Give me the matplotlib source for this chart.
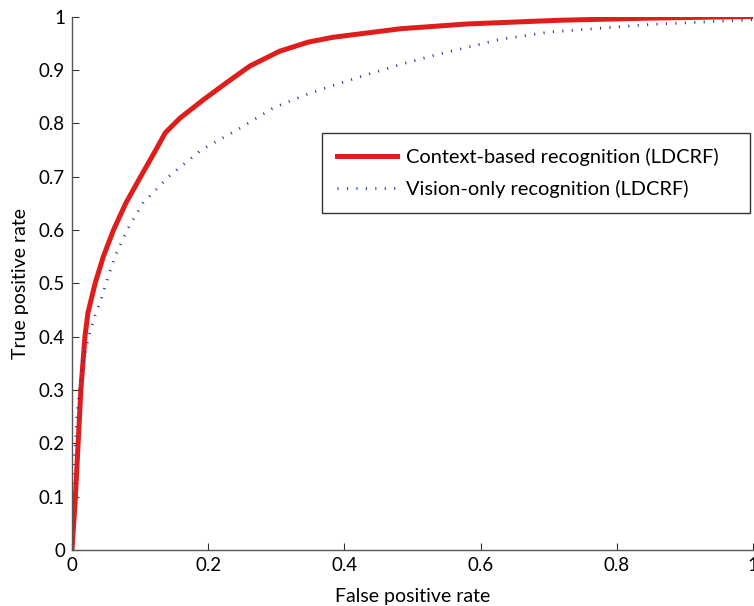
# ROC curves: context-based vs vision-only (LDCRF)
import numpy as np
import matplotlib.pyplot as plt

plt.rc('font', family='Lato', size=14)

# Context-based recognition (LDCRF)
fpr_ctx = [0, 0.005, 0.009, 0.013, 0.016, 0.019, 0.0235, 0.034, 0.046, 0.061,
           0.079, 0.1, 0.124, 0.137, 0.159, 0.193, 0.227, 0.261, 0.305, 0.347,
           0.383, 0.482, 0.58, 0.717, 0.85, 1.0]
tpr_ctx = [0, 0.1, 0.2, 0.3, 0.35, 0.4, 0.445, 0.5, 0.55, 0.6,
           0.65, 0.698, 0.752, 0.782, 0.81, 0.844, 0.876, 0.907, 0.935, 0.952,
           0.961, 0.977, 0.986, 0.993, 0.997, 1.0]

# Vision-only recognition (LDCRF)
fpr_vis = [0, 0.001, 0.002, 0.005, 0.007, 0.011, 0.016, 0.0245, 0.034, 0.043,
           0.05, 0.063, 0.081, 0.104, 0.142, 0.19, 0.247, 0.296, 0.345, 0.384,
           0.433, 0.482, 0.531, 0.58, 0.628, 0.702, 0.849, 1.0]
tpr_vis = [0, 0.1, 0.16, 0.2, 0.25, 0.3, 0.35, 0.4, 0.44, 0.47,
           0.5, 0.55, 0.6, 0.65, 0.7, 0.75, 0.791, 0.829, 0.854, 0.871,
           0.891, 0.91, 0.927, 0.942, 0.957, 0.971, 0.985, 0.994]

fig = plt.figure(figsize=(7.54, 6.06), dpi=100)
ax = fig.add_axes([72/754, 56/606, 681/754, 533.5/606])

ax.plot(fpr_ctx, tpr_ctx, color='#dd1e1c', linewidth=3.6,
        solid_joinstyle='round', label='Context-based recognition (LDCRF)')
ax.plot(fpr_vis, tpr_vis, color='#2a3aa0', linewidth=2.0,
        linestyle=(0, (0.4, 3.0)), dash_capstyle='butt',
        label='Vision-only recognition (LDCRF)')

# Ejes estilo MATLAB (box off, ticks hacia dentro)
ax.set_xlim(0, 1)
ax.set_ylim(0, 1)
ax.set_xticks(np.arange(0, 1.01, 0.2))
ax.set_xticklabels(['0', '0.2', '0.4', '0.6', '0.8', '1'])
ax.set_yticks(np.arange(0, 1.01, 0.1))
ax.set_yticklabels(['0', '0.1', '0.2', '0.3', '0.4', '0.5', '0.6', '0.7', '0.8', '0.9', '1'])
ax.tick_params(direction='in', length=5, width=0.8, color='#333333',
               pad=5, labelsize=13.5)
for s in ['top', 'right']:
    ax.spines[s].set_visible(False)
for s in ['left', 'bottom']:
    ax.spines[s].set_color('#555555')
    ax.spines[s].set_linewidth(1.0)

ax.set_xlabel('False positive rate', fontsize=14, labelpad=10)
ax.set_ylabel('True positive rate', fontsize=14, labelpad=7)

# Leyenda con caja ancha como en MATLAB
leg = ax.legend(loc='upper left', bbox_to_anchor=(0.367, 0.5, 0.629, 0.282),
                mode='expand', borderaxespad=0, fontsize=14.4, frameon=True,
                fancybox=False, edgecolor='black', handlelength=3.0,
                handletextpad=0.45, borderpad=0.75, labelspacing=0.72)
leg.get_frame().set_linewidth(1.0)

fig.savefig('out.png', dpi=100)
